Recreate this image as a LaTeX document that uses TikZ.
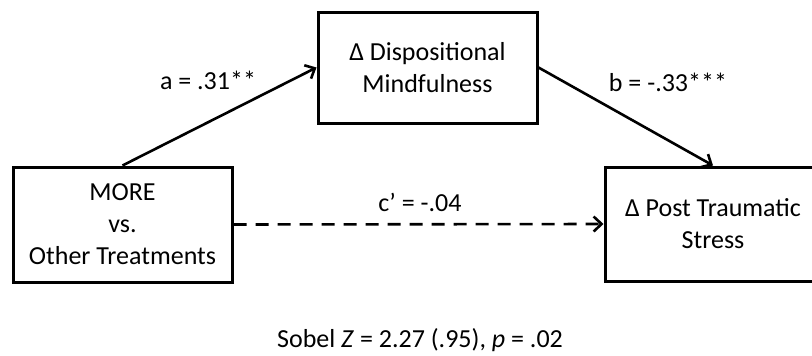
\documentclass[tikz,border=0pt]{standalone}
\usepackage{fontspec}
\setmainfont{Carlito}
\usetikzlibrary{arrows.meta}
\begin{document}
\begin{tikzpicture}[x=1pt,y=-1pt,
  box/.style={draw=black,line width=3pt,align=center,inner sep=0pt,
    font=\fontsize{26}{32}\selectfont},
  lbl/.style={font=\fontsize{26}{32}\selectfont,inner sep=0pt},
  conn/.style={line width=2.6pt,-{Straight Barb[length=8pt,width=15pt,line width=2.6pt]}}]
\useasboundingbox (0,0) rectangle (812,356);
\clip (0,0) rectangle (812,356);
\node[box,minimum width=219pt,minimum height=115pt] (L) at (122.5,224.5) {MORE\\vs.\\Other Treatments};
\node[box,minimum width=219pt,minimum height=111pt] (M) at (427.5,67.5) {Δ Dispositional\\Mindfulness};
\node[box,minimum width=216pt,minimum height=114pt] (R) at (713,224) {Δ Post Traumatic\\Stress};
\draw[conn] (L.north) -- (M.west);
\draw[conn] (M.east) -- (R.north);
\draw[conn,dash pattern=on 13pt off 9pt] (L.east) -- (R.west);
\node[lbl] (a) at (208,80) {a = .31**};
\node[lbl] (b) at (668,82) {b = -.33***};
\node[lbl] (c) at (420,202) {c’ = -.04};
\node[lbl] (s) at (420,340) {Sobel \textit{Z} = 2.27 (.95), \textit{p} = .02};
\end{tikzpicture}
\end{document}
